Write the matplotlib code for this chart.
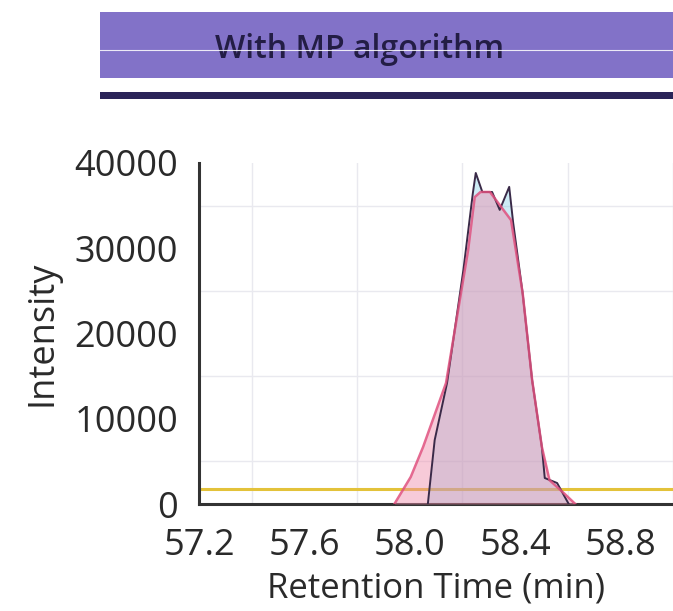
import matplotlib
matplotlib.use("Agg")
import matplotlib.pyplot as plt
from matplotlib.patches import Rectangle
from matplotlib.lines import Line2D

plt.rcParams['font.family'] = ['Open Sans', 'DejaVu Sans']

# Observed chromatogram (data)
data_time = [58.069, 58.095, 58.142, 58.204, 58.240, 58.251, 58.276, 58.313,
             58.342, 58.378, 58.393, 58.429, 58.465, 58.502, 58.513, 58.560, 58.604]
data_intensity = [0, 7500, 14200, 27450, 36480, 38830, 36600, 36600,
                  34500, 37200, 33000, 24750, 14550, 6700, 3050, 2460, 0]

# Fitted peak
fit_time = [57.942, 58.004, 58.051, 58.138, 58.222, 58.247, 58.269, 58.305,
            58.385, 58.429, 58.465, 58.502, 58.531, 58.585, 58.629]
fit_intensity = [0, 3170, 6690, 14190, 29790, 36000, 36600, 36600,
                 33300, 24750, 14550, 6700, 2800, 1290, 0]

threshold = 1800

x_ticks = [57.2, 57.6, 58.0, 58.4, 58.8]
x_tick_labels = ["57.2", "57.6", "58.0", "58.4", "58.8"]
y_ticks = [0, 10000, 20000, 30000, 40000]
y_tick_labels = ["0", "10000", "20000", "30000", "40000"]

title = "With MP algorithm"
x_label = "Retention Time (min)"
y_label = "Intensity"

W, H = 673, 611
fig = plt.figure(figsize=(W / 100, H / 100), dpi=100)
fig.patch.set_facecolor("white")

# Banner
fig.patches.append(Rectangle((100 / W, 1 - 78 / H), 1 - 100 / W, 66 / H,
                             transform=fig.transFigure, facecolor="#8272c8",
                             edgecolor="none", zorder=0))
fig.patches.append(Rectangle((100 / W, 1 - 99 / H), 1 - 100 / W, 7 / H,
                             transform=fig.transFigure, facecolor="#2a2458",
                             edgecolor="none", zorder=0))
fig.text(360 / W, 1 - 50 / H, title, ha="center", va="center",
         fontsize=23, color="#231d45", fontweight="semibold")
fig.lines.append(Line2D([100 / W, 1], [1 - 50 / H, 1 - 50 / H],
                        transform=fig.transFigure, color="white", lw=0.8,
                        alpha=0.85, zorder=5))

ax = fig.add_axes([199 / W, 1 - 504 / H, 1 - 199 / W, (504 - 163) / H])
ax.set_xlim(57.2, 57.2 + 474 / 275.5)
ax.set_ylim(0, 40000)

# grid
ax.set_xticks([57.2 + 0.2 * i for i in range(10)], minor=True)
ax.set_yticks([5000 * i for i in range(9)], minor=True)
ax.grid(which="minor", color="#e9e9ef", lw=1.0, zorder=0)
ax.set_axisbelow(True)

ax.axhline(threshold, color="#e3c23a", lw=2.2, zorder=1)

ax.fill_between(data_time, data_intensity, 0, color="#5cbfe0", alpha=0.3,
                lw=0, zorder=2)
ax.fill_between(fit_time, fit_intensity, 0, color="#ef8aaa", alpha=0.45,
                lw=0, zorder=3)
ax.plot(data_time, data_intensity, color="#3a2a48", lw=1.4, zorder=4)
ax.plot(fit_time, fit_intensity, color="#e0507e", lw=1.8, alpha=0.85, zorder=5)

ax.set_xticks(x_ticks)
ax.set_xticklabels(x_tick_labels)
ax.set_yticks(y_ticks)
ax.set_yticklabels(y_tick_labels)
ax.tick_params(axis="both", which="both", length=0, labelsize=26,
               labelcolor="#2a2a2a")
ax.tick_params(axis="x", pad=17)
ax.tick_params(axis="y", pad=15)

for s in ("top", "right"):
    ax.spines[s].set_visible(False)
for s in ("left", "bottom"):
    ax.spines[s].set_color("#333333")
    ax.spines[s].set_linewidth(2.2)

ax.set_xlabel(x_label, fontsize=25, color="#2a2a2a", labelpad=6)
ax.set_ylabel(y_label, fontsize=26, color="#2a2a2a", labelpad=10)

fig.savefig("out.png", dpi=100)
